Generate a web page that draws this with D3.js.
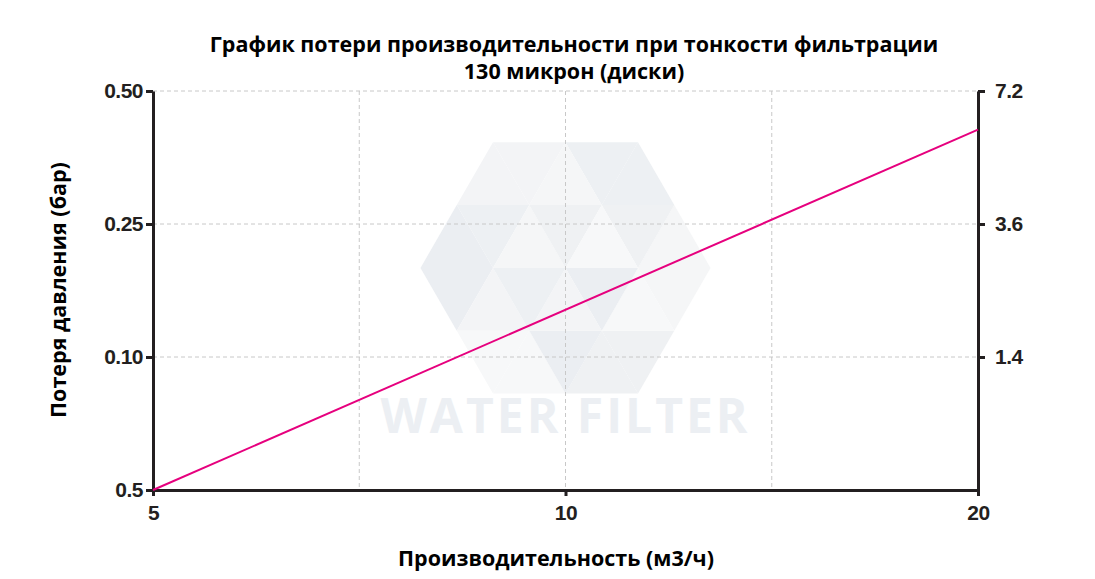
<!DOCTYPE html>
<html><head><meta charset="utf-8">
<script src="https://cdn.jsdelivr.net/npm/d3@7"></script>
<style>body{margin:0;background:#fff}</style></head>
<body><div id="chart"></div>
<script>
const xLabels = ["5", "", "10", "", "20"];
const yLabels = ["0.5", "0.10", "0.25", "0.50"];
const yRightLabels = ["", "1.4", "3.6", "7.2"];
// line in tick-index units
const lineX = [0, 4];
const lineY = [0, 2.71];

const W = 1095, H = 579;
const margin = {top: 91, right: 117, bottom: 89, left: 153},
    width = W - margin.left - margin.right,
    height = H - margin.top - margin.bottom;

const svg = d3.select("#chart").append("svg")
    .attr("width", W).attr("height", H);
const g = svg.append("g").attr("transform", `translate(${margin.left},${margin.top})`);

const x = d3.scaleLinear().domain([0, xLabels.length - 1]).range([0, width]);
const y = d3.scaleLinear().domain([0, yLabels.length - 1]).range([height, 0]);

// watermark
const wm = g.append("g").attr("transform", `translate(${x(2)},${y(1.67)})`);
const R = 145;
const shades = ["#f5f6f7", "#eff1f3", "#f7f8f9", "#ebeef2", "#f3f4f6", "#edf0f3"];
const pts = d3.range(7).map(i => [R * Math.cos(i * Math.PI / 3), R * Math.sin(i * Math.PI / 3)]);
for (let i = 0; i < 6; i++) {
  const a = pts[i], b = pts[i + 1];
  const m = [(a[0] + b[0]) / 2, (a[1] + b[1]) / 2];
  const ma = [a[0] / 2, a[1] / 2], mb = [b[0] / 2, b[1] / 2];
  [[a, m, ma], [m, b, mb], [ma, mb, m], [[0, 0], ma, mb]].forEach((t, j) => {
    wm.append("path").attr("d", "M" + t.join("L") + "Z")
      .attr("fill", shades[(i + j) % 6]);
  });
}
g.append("text").attr("x", x(2)).attr("y", 342).attr("text-anchor", "middle")
  .attr("font-family", "Open Sans, sans-serif").attr("font-weight", 700)
  .attr("font-size", 48).attr("fill", "#eceff3").attr("letter-spacing", 3).text("WATER FILTER");

// grid
g.append("g").selectAll("line").data(yLabels.map((d, i) => i)).join("line")
  .attr("x1", 0).attr("x2", width).attr("y1", d => y(d)).attr("y2", d => y(d))
  .attr("stroke", "#c8c8c8").attr("stroke-dasharray", "4,3");
g.append("g").selectAll("line").data(xLabels.map((d, i) => i)).join("line")
  .attr("y1", 0).attr("y2", height).attr("x1", d => x(d)).attr("x2", d => x(d))
  .attr("stroke", "#c8c8c8").attr("stroke-dasharray", "4,3");

const tickFont = "'Liberation Sans Narrow', 'Liberation Sans', Arial, sans-serif";
function styleAxis(sel) {
  sel.select(".domain").attr("stroke", "#231f20").attr("stroke-width", 3);
  sel.selectAll(".tick line").attr("stroke", "#231f20").attr("stroke-width", 3);
  sel.selectAll(".tick text").attr("font-family", tickFont).attr("font-weight", 700)
    .attr("font-size", 21).attr("fill", "#231f20").attr("letter-spacing", -0.5);
}
const xa = g.append("g").attr("transform", `translate(0,${height})`)
  .call(d3.axisBottom(x).ticks(4).tickFormat(i => xLabels[i]).tickSize(6).tickSizeOuter(0).tickPadding(9));
styleAxis(xa);
xa.selectAll(".tick").filter(d => xLabels[d] === "").select("line").remove();
const ya = g.append("g")
  .call(d3.axisLeft(y).ticks(3).tickFormat(i => yLabels[i]).tickSize(7).tickSizeOuter(0).tickPadding(3));
styleAxis(ya);
const yr = g.append("g").attr("transform", `translate(${width},0)`)
  .call(d3.axisRight(y).ticks(3).tickFormat(i => yRightLabels[i]).tickSize(7).tickSizeOuter(0).tickPadding(10));
styleAxis(yr);
yr.selectAll(".tick").filter(d => yRightLabels[d] === "").select("line").remove();

// line
g.append("path").datum(lineX.map((d, i) => [d, lineY[i]]))
  .attr("d", d3.line().x(d => x(d[0])).y(d => y(d[1])))
  .attr("stroke", "#e6007e").attr("stroke-width", 2).attr("fill", "none");

// titles
const tf = "'Open Sans', sans-serif";
const txt = (xx, yy, s, rot) => svg.append("text")
  .attr("transform", `translate(${xx},${yy})` + (rot ? " rotate(-90)" : ""))
  .attr("text-anchor", "middle").attr("font-family", tf).attr("font-weight", 700)
  .attr("font-size", 21.5).attr("fill", "#000").text(s);
txt(574, 52, "График потери производительности при тонкости фильтрации");
txt(574, 79, "130 микрон (диски)");
txt(556, 566, "Производительность (м3/ч)");
txt(66, 290, "Потеря давления (бар)", true);
</script></body></html>
